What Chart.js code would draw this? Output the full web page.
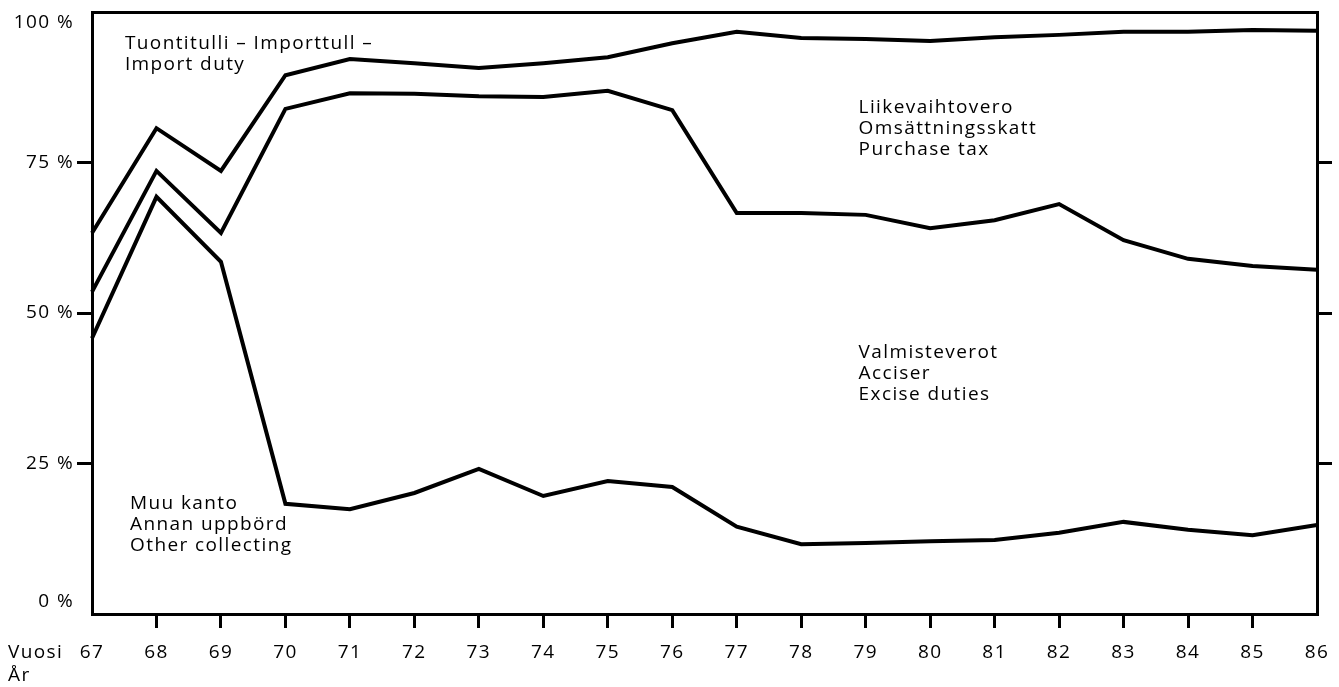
<!DOCTYPE html>
<html>
<head>
<meta charset="utf-8">
<script src="https://cdn.jsdelivr.net/npm/chart.js"></script>
<style>
  html, body { margin: 0; padding: 0; background: #fff; }
  canvas { display: block; }
</style>
</head>
<body>
<canvas id="shareChart" width="1339" height="687"></canvas>
<script>
// Vuodet / År
var years = ['67','68','69','70','71','72','73','74','75','76','77','78','79','80','81','82','83','84','85','86'];

// Kumulatiiviset rajat (%)
// Muu kanto (alin viiva)
var otherTop = [45.8, 69.3, 58.5, 18.3, 17.4, 20.1, 24.1, 19.6, 22.1, 21.1, 14.5, 11.6, 11.8, 12.1, 12.3, 13.5, 15.3, 14.0, 13.1, 14.8];
// Valmisteverot yläraja
var exciseTop = [53.5, 73.6, 63.3, 83.9, 86.5, 86.4, 86.0, 85.9, 86.9, 83.7, 66.6, 66.6, 66.3, 64.1, 65.4, 68.1, 62.1, 59.0, 57.8, 57.2];
// Liikevaihtovero yläraja
var purchaseTop = [63.3, 80.7, 73.6, 89.5, 92.2, 91.5, 90.7, 91.5, 92.5, 94.8, 96.7, 95.7, 95.5, 95.2, 95.8, 96.2, 96.7, 96.7, 97.0, 96.9];

var yTickValues = [0, 25, 50, 75, 100];
var yTickLabels = ['0 %', '25 %', '50 %', '75 %', '100 %'];

var areaLabels = [
    { lines: ['Tuontitulli \u2013 Importtull \u2013', 'Import duty'], x: 0.51, y: 94.8 },
    { lines: ['Liikevaihtovero', 'Omsättningsskatt', 'Purchase tax'], x: 11.89, y: 84.2 },
    { lines: ['Valmisteverot', 'Acciser', 'Excise duties'], x: 11.89, y: 43.5 },
    { lines: ['Muu kanto', 'Annan uppbörd', 'Other collecting'], x: 0.59, y: 18.4 }
];

var FONT = '19px "Open Sans", "DejaVu Sans", sans-serif';

function lineSet(data) {
    return {
        data: data,
        borderColor: '#000',
        borderWidth: 4,
        pointRadius: 0,
        tension: 0,
        fill: false
    };
}

// tekstit piirretään skaalojen avulla
var textPlugin = {
    id: 'texts',
    afterDraw: function(chart) {
        var ctx = chart.ctx;
        var xs = chart.scales.x;
        var ys = chart.scales.y;
        var area = chart.chartArea;
        ctx.save();
        ctx.fillStyle = '#000';
        ctx.font = FONT;
        if ('letterSpacing' in ctx) ctx.letterSpacing = '1.4px';
        ctx.textBaseline = 'middle';

        // y-akselin tekstit
        ctx.textAlign = 'right';
        yTickValues.forEach(function(v, i) {
            var off = 0;
            if (v === 100) off = 11;
            if (v === 0) off = -12;
            ctx.fillText(yTickLabels[i], area.left - 18, ys.getPixelForValue(v) + off);
        });

        // x-akselin tekstit
        ctx.textAlign = 'center';
        years.forEach(function(y, i) {
            ctx.fillText(y, xs.getPixelForValue(i), area.bottom + 39);
        });
        ctx.textAlign = 'left';
        ctx.fillText('Vuosi', 8, area.bottom + 39);
        ctx.fillText('År', 8, area.bottom + 62);

        // alueiden nimet
        areaLabels.forEach(function(a) {
            var px = xs.getPixelForValue(a.x);
            var py = ys.getPixelForValue(a.y);
            a.lines.forEach(function(t, k) {
                ctx.fillText(t, px, py + k * 21);
            });
        });
        ctx.restore();
    }
};

function hideEnds(ctx, last) {
    var v = ctx.index;
    return (v === 0 || v === last) ? 'rgba(0,0,0,0)' : '#000';
}

var chart = new Chart(document.getElementById('shareChart').getContext('2d'), {
    type: 'line',
    data: {
        labels: years,
        datasets: [lineSet(otherTop), lineSet(exciseTop), lineSet(purchaseTop)]
    },
    options: {
        responsive: false,
        animation: false,
        layout: { padding: { left: 77, right: 7, top: 12, bottom: 59 } },
        plugins: { legend: { display: false }, tooltip: { enabled: false } },
        scales: {
            x: {
                type: 'category',
                position: 'bottom',
                ticks: { display: false },
                grid: {
                    drawOnChartArea: false, drawTicks: true, tickLength: 14,
                    lineWidth: 3, tickWidth: 3,
                    tickColor: function(c) { return hideEnds(c, years.length - 1); }
                },
                border: { display: true, color: '#000', width: 3 }
            },
            x2: {
                type: 'category',
                position: 'top',
                labels: years,
                ticks: { display: false },
                grid: { drawOnChartArea: false, drawTicks: false, color: 'rgba(0,0,0,0)' },
                border: { display: true, color: '#000', width: 3 }
            },
            y: {
                position: 'left',
                min: 0, max: 100,
                ticks: { display: false, stepSize: 25 },
                grid: {
                    drawOnChartArea: false, drawTicks: true, tickLength: 15,
                    lineWidth: 3, tickWidth: 3,
                    tickColor: function(c) { return hideEnds(c, 4); }
                },
                border: { display: true, color: '#000', width: 3 }
            },
            y2: {
                position: 'right',
                min: 0, max: 100,
                ticks: { display: false, stepSize: 25 },
                grid: {
                    drawOnChartArea: false, drawTicks: true, tickLength: 15,
                    lineWidth: 3, tickWidth: 3,
                    tickColor: function(c) { return hideEnds(c, 4); }
                },
                border: { display: true, color: '#000', width: 3 }
            }
        }
    },
    plugins: [textPlugin]
});
</script>
</body>
</html>
